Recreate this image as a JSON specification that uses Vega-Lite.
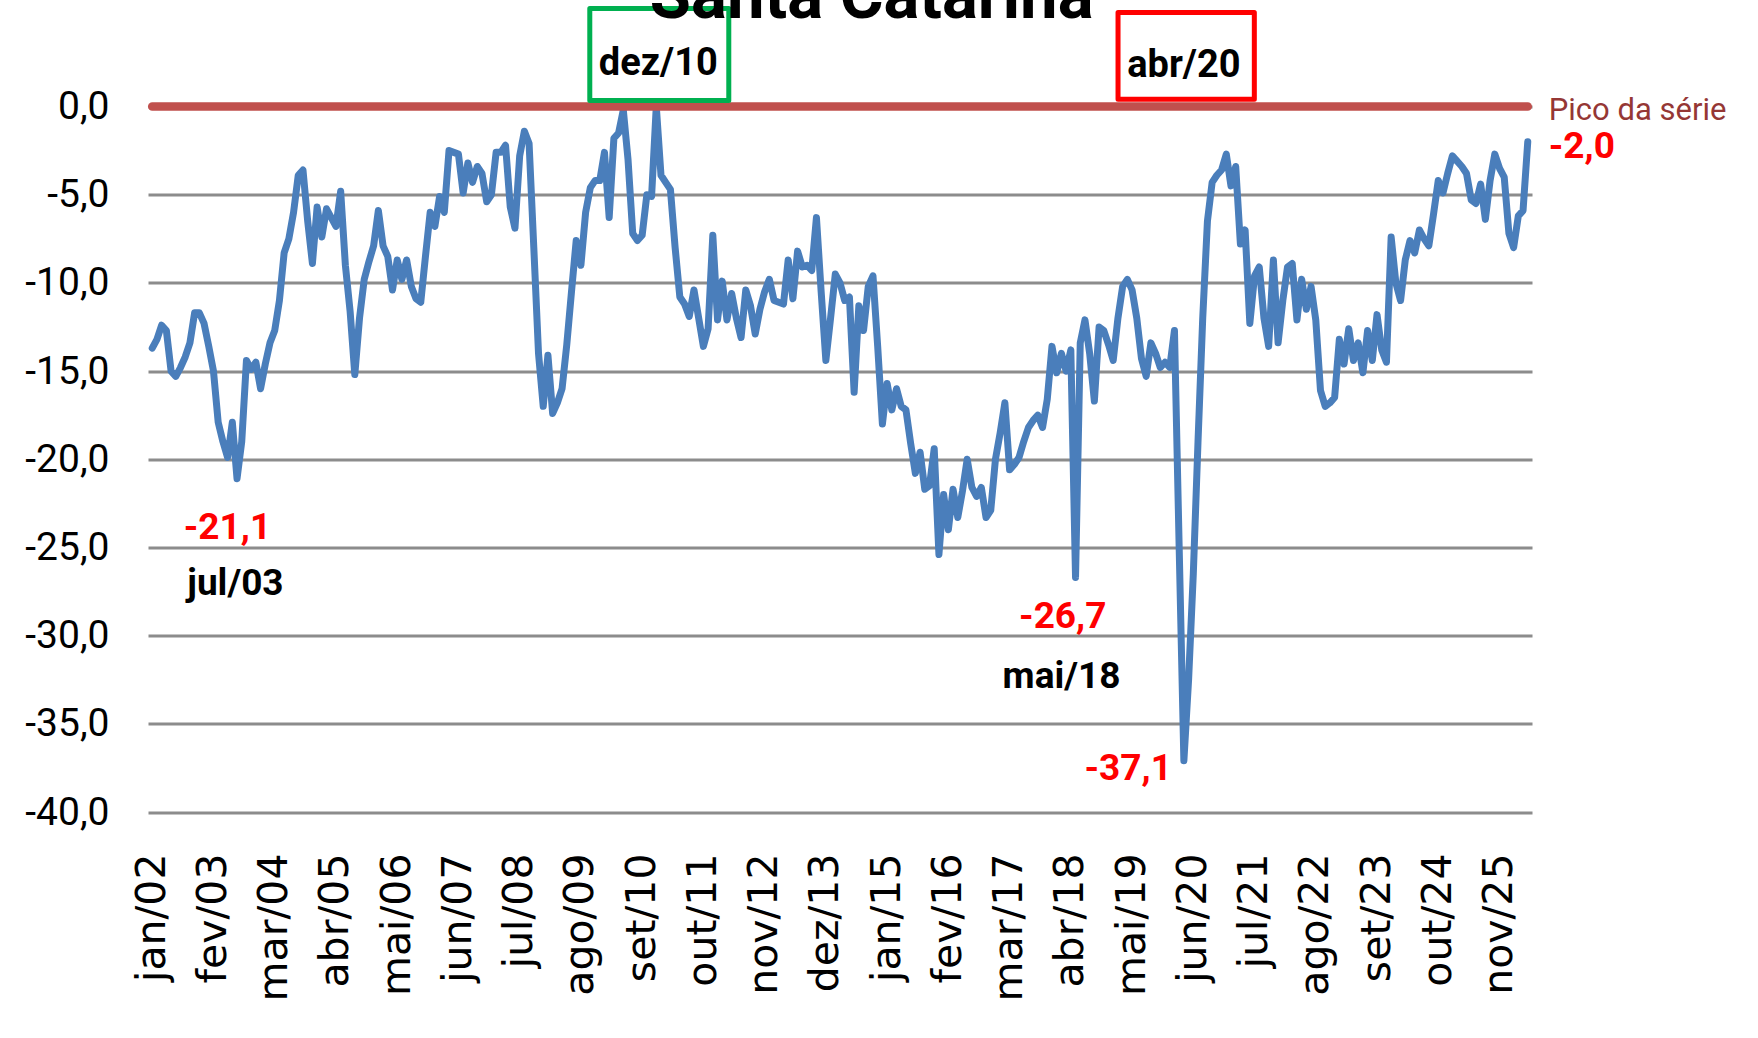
{
  "$schema": "https://vega.github.io/schema/vega-lite/v6.json",
  "width": 1384,
  "height": 705.5,
  "autosize": {"type": "none"},
  "padding": {"left": 148, "top": 106.5, "right": 226, "bottom": 226},
  "background": "white",
  "config": {"view": {"stroke": null}},
  "data": {"values": [
    {"m":"jan/02","v":-13.7},{"m":"fev/02","v":-13.2},{"m":"mar/02","v":-12.4},{"m":"abr/02","v":-12.7},{"m":"mai/02","v":-15.0},{"m":"jun/02","v":-15.3},{"m":"jul/02","v":-14.8},{"m":"ago/02","v":-14.2},{"m":"set/02","v":-13.4},{"m":"out/02","v":-11.7},{"m":"nov/02","v":-11.7},{"m":"dez/02","v":-12.3},
    {"m":"jan/03","v":-13.6},{"m":"fev/03","v":-15.0},{"m":"mar/03","v":-17.9},{"m":"abr/03","v":-19.0},{"m":"mai/03","v":-19.9},{"m":"jun/03","v":-17.9},{"m":"jul/03","v":-21.1},{"m":"ago/03","v":-19.0},{"m":"set/03","v":-14.4},{"m":"out/03","v":-14.9},{"m":"nov/03","v":-14.5},{"m":"dez/03","v":-16.0},
    {"m":"jan/04","v":-14.6},{"m":"fev/04","v":-13.4},{"m":"mar/04","v":-12.7},{"m":"abr/04","v":-11.0},{"m":"mai/04","v":-8.3},{"m":"jun/04","v":-7.5},{"m":"jul/04","v":-6.0},{"m":"ago/04","v":-3.9},{"m":"set/04","v":-3.6},{"m":"out/04","v":-6.5},{"m":"nov/04","v":-8.9},{"m":"dez/04","v":-5.7},
    {"m":"jan/05","v":-7.4},{"m":"fev/05","v":-5.8},{"m":"mar/05","v":-6.3},{"m":"abr/05","v":-6.8},{"m":"mai/05","v":-4.8},{"m":"jun/05","v":-9.0},{"m":"jul/05","v":-11.6},{"m":"ago/05","v":-15.2},{"m":"set/05","v":-12.0},{"m":"out/05","v":-9.8},{"m":"nov/05","v":-8.8},{"m":"dez/05","v":-7.9},
    {"m":"jan/06","v":-5.9},{"m":"fev/06","v":-7.9},{"m":"mar/06","v":-8.5},{"m":"abr/06","v":-10.4},{"m":"mai/06","v":-8.7},{"m":"jun/06","v":-9.8},{"m":"jul/06","v":-8.7},{"m":"ago/06","v":-10.2},{"m":"set/06","v":-10.9},{"m":"out/06","v":-11.1},{"m":"nov/06","v":-8.5},{"m":"dez/06","v":-6.0},
    {"m":"jan/07","v":-6.8},{"m":"fev/07","v":-5.1},{"m":"mar/07","v":-6.0},{"m":"abr/07","v":-2.5},{"m":"mai/07","v":-2.6},{"m":"jun/07","v":-2.7},{"m":"jul/07","v":-4.9},{"m":"ago/07","v":-3.2},{"m":"set/07","v":-4.3},{"m":"out/07","v":-3.4},{"m":"nov/07","v":-3.8},{"m":"dez/07","v":-5.4},
    {"m":"jan/08","v":-5.0},{"m":"fev/08","v":-2.6},{"m":"mar/08","v":-2.6},{"m":"abr/08","v":-2.2},{"m":"mai/08","v":-5.7},{"m":"jun/08","v":-6.9},{"m":"jul/08","v":-2.8},{"m":"ago/08","v":-1.4},{"m":"set/08","v":-2.1},{"m":"out/08","v":-8.0},{"m":"nov/08","v":-14.0},{"m":"dez/08","v":-17.0},
    {"m":"jan/09","v":-14.1},{"m":"fev/09","v":-17.4},{"m":"mar/09","v":-16.8},{"m":"abr/09","v":-16.0},{"m":"mai/09","v":-13.5},{"m":"jun/09","v":-10.5},{"m":"jul/09","v":-7.6},{"m":"ago/09","v":-9.0},{"m":"set/09","v":-6.0},{"m":"out/09","v":-4.6},{"m":"nov/09","v":-4.2},{"m":"dez/09","v":-4.2},
    {"m":"jan/10","v":-2.6},{"m":"fev/10","v":-6.3},{"m":"mar/10","v":-1.8},{"m":"abr/10","v":-1.5},{"m":"mai/10","v":-0.2},{"m":"jun/10","v":-3.0},{"m":"jul/10","v":-7.2},{"m":"ago/10","v":-7.6},{"m":"set/10","v":-7.3},{"m":"out/10","v":-5.0},{"m":"nov/10","v":-5.1},{"m":"dez/10","v":0.0},
    {"m":"jan/11","v":-3.9},{"m":"fev/11","v":-4.3},{"m":"mar/11","v":-4.7},{"m":"abr/11","v":-8.0},{"m":"mai/11","v":-10.8},{"m":"jun/11","v":-11.2},{"m":"jul/11","v":-11.9},{"m":"ago/11","v":-10.4},{"m":"set/11","v":-12.0},{"m":"out/11","v":-13.6},{"m":"nov/11","v":-12.6},{"m":"dez/11","v":-7.3},
    {"m":"jan/12","v":-12.1},{"m":"fev/12","v":-9.9},{"m":"mar/12","v":-12.1},{"m":"abr/12","v":-10.6},{"m":"mai/12","v":-12.0},{"m":"jun/12","v":-13.1},{"m":"jul/12","v":-10.4},{"m":"ago/12","v":-11.3},{"m":"set/12","v":-12.9},{"m":"out/12","v":-11.5},{"m":"nov/12","v":-10.5},{"m":"dez/12","v":-9.8},
    {"m":"jan/13","v":-11.0},{"m":"fev/13","v":-11.1},{"m":"mar/13","v":-11.2},{"m":"abr/13","v":-8.7},{"m":"mai/13","v":-10.9},{"m":"jun/13","v":-8.2},{"m":"jul/13","v":-9.1},{"m":"ago/13","v":-9.0},{"m":"set/13","v":-9.3},{"m":"out/13","v":-6.3},{"m":"nov/13","v":-10.5},{"m":"dez/13","v":-14.4},
    {"m":"jan/14","v":-12.0},{"m":"fev/14","v":-9.5},{"m":"mar/14","v":-10.0},{"m":"abr/14","v":-11.0},{"m":"mai/14","v":-10.8},{"m":"jun/14","v":-16.2},{"m":"jul/14","v":-11.3},{"m":"ago/14","v":-12.7},{"m":"set/14","v":-10.2},{"m":"out/14","v":-9.6},{"m":"nov/14","v":-13.6},{"m":"dez/14","v":-18.0},
    {"m":"jan/15","v":-15.7},{"m":"fev/15","v":-17.2},{"m":"mar/15","v":-16.0},{"m":"abr/15","v":-17.0},{"m":"mai/15","v":-17.2},{"m":"jun/15","v":-19.1},{"m":"jul/15","v":-20.8},{"m":"ago/15","v":-19.6},{"m":"set/15","v":-21.7},{"m":"out/15","v":-21.5},{"m":"nov/15","v":-19.4},{"m":"dez/15","v":-25.4},
    {"m":"jan/16","v":-22.0},{"m":"fev/16","v":-24.0},{"m":"mar/16","v":-21.7},{"m":"abr/16","v":-23.3},{"m":"mai/16","v":-21.8},{"m":"jun/16","v":-20.0},{"m":"jul/16","v":-21.6},{"m":"ago/16","v":-22.1},{"m":"set/16","v":-21.6},{"m":"out/16","v":-23.3},{"m":"nov/16","v":-22.9},{"m":"dez/16","v":-20.0},
    {"m":"jan/17","v":-18.5},{"m":"fev/17","v":-16.8},{"m":"mar/17","v":-20.6},{"m":"abr/17","v":-20.3},{"m":"mai/17","v":-19.9},{"m":"jun/17","v":-19.0},{"m":"jul/17","v":-18.2},{"m":"ago/17","v":-17.8},{"m":"set/17","v":-17.5},{"m":"out/17","v":-18.2},{"m":"nov/17","v":-16.6},{"m":"dez/17","v":-13.6},
    {"m":"jan/18","v":-15.1},{"m":"fev/18","v":-14.0},{"m":"mar/18","v":-15.0},{"m":"abr/18","v":-13.8},{"m":"mai/18","v":-26.7},{"m":"jun/18","v":-13.4},{"m":"jul/18","v":-12.1},{"m":"ago/18","v":-14.0},{"m":"set/18","v":-16.7},{"m":"out/18","v":-12.5},{"m":"nov/18","v":-12.7},{"m":"dez/18","v":-13.5},
    {"m":"jan/19","v":-14.4},{"m":"fev/19","v":-12.0},{"m":"mar/19","v":-10.2},{"m":"abr/19","v":-9.8},{"m":"mai/19","v":-10.4},{"m":"jun/19","v":-12.0},{"m":"jul/19","v":-14.3},{"m":"ago/19","v":-15.3},{"m":"set/19","v":-13.4},{"m":"out/19","v":-14.0},{"m":"nov/19","v":-14.8},{"m":"dez/19","v":-14.5},
    {"m":"jan/20","v":-14.8},{"m":"fev/20","v":-12.7},{"m":"mar/20","v":-25.0},{"m":"abr/20","v":-37.1},{"m":"mai/20","v":-32.5},{"m":"jun/20","v":-26.5},{"m":"jul/20","v":-19.0},{"m":"ago/20","v":-12.0},{"m":"set/20","v":-6.5},{"m":"out/20","v":-4.3},{"m":"nov/20","v":-3.9},{"m":"dez/20","v":-3.6},
    {"m":"jan/21","v":-2.7},{"m":"fev/21","v":-4.5},{"m":"mar/21","v":-3.4},{"m":"abr/21","v":-7.8},{"m":"mai/21","v":-7.0},{"m":"jun/21","v":-12.3},{"m":"jul/21","v":-9.6},{"m":"ago/21","v":-9.1},{"m":"set/21","v":-12.0},{"m":"out/21","v":-13.6},{"m":"nov/21","v":-8.7},{"m":"dez/21","v":-13.4},
    {"m":"jan/22","v":-11.0},{"m":"fev/22","v":-9.1},{"m":"mar/22","v":-8.9},{"m":"abr/22","v":-12.1},{"m":"mai/22","v":-9.8},{"m":"jun/22","v":-11.5},{"m":"jul/22","v":-10.2},{"m":"ago/22","v":-12.1},{"m":"set/22","v":-16.1},{"m":"out/22","v":-17.0},{"m":"nov/22","v":-16.8},{"m":"dez/22","v":-16.5},
    {"m":"jan/23","v":-13.2},{"m":"fev/23","v":-14.6},{"m":"mar/23","v":-12.6},{"m":"abr/23","v":-14.4},{"m":"mai/23","v":-13.4},{"m":"jun/23","v":-15.1},{"m":"jul/23","v":-12.7},{"m":"ago/23","v":-14.4},{"m":"set/23","v":-11.8},{"m":"out/23","v":-13.8},{"m":"nov/23","v":-14.5},{"m":"dez/23","v":-7.4},
    {"m":"jan/24","v":-10.0},{"m":"fev/24","v":-11.0},{"m":"mar/24","v":-8.7},{"m":"abr/24","v":-7.6},{"m":"mai/24","v":-8.3},{"m":"jun/24","v":-7.0},{"m":"jul/24","v":-7.5},{"m":"ago/24","v":-7.9},{"m":"set/24","v":-6.1},{"m":"out/24","v":-4.2},{"m":"nov/24","v":-4.9},{"m":"dez/24","v":-3.8},
    {"m":"jan/25","v":-2.8},{"m":"fev/25","v":-3.1},{"m":"mar/25","v":-3.4},{"m":"abr/25","v":-3.8},{"m":"mai/25","v":-5.3},{"m":"jun/25","v":-5.5},{"m":"jul/25","v":-4.4},{"m":"ago/25","v":-6.4},{"m":"set/25","v":-4.2},{"m":"out/25","v":-2.7},{"m":"nov/25","v":-3.5},{"m":"dez/25","v":-4.0},
    {"m":"jan/26","v":-7.2},{"m":"fev/26","v":-8.0},{"m":"mar/26","v":-6.2},{"m":"abr/26","v":-5.9},{"m":"mai/26","v":-2.0}
  ]},
  "encoding": {
    "x": {
      "field": "m", "type": "ordinal", "sort": null,
      "scale": {"type": "point", "padding": 0.9},
      "axis": {
        "values": ["jan/02","fev/03","mar/04","abr/05","mai/06","jun/07","jul/08","ago/09","set/10","out/11","nov/12","dez/13","jan/15","fev/16","mar/17","abr/18","mai/19","jun/20","jul/21","ago/22","set/23","out/24","nov/25"],
        "title": null, "domain": false, "ticks": false, "grid": false,
        "labelAngle": 270, "labelAlign": "right", "labelBaseline": "middle",
        "labelFont": "DejaVu Sans", "labelFontSize": 41, "labelColor": "#000000",
        "labelPadding": 41, "labelOverlap": false, "labelFlush": false, "labelBound": false
      }
    },
    "y": {
      "field": "v", "type": "quantitative",
      "scale": {"domain": [-40, 0], "nice": false, "zero": false},
      "axis": {
        "values": [-40, -35, -30, -25, -20, -15, -10, -5, 0],
        "title": null, "domain": false, "ticks": false, "grid": true,
        "gridColor": "#8c8c8c", "gridWidth": 3,
        "labelFont": "Roboto", "labelFontSize": 39, "labelColor": "#000000",
        "labelPadding": 39, "labelOverlap": false, "labelFlush": false, "labelBound": false,
        "labelExpr": "(datum.value < 0 ? '-' : '') + replace(format(abs(datum.value), '.1f'), '.', ',')"
      }
    }
  },
  "layer": [
    {
      "mark": {"type": "line", "color": "#4a7ebb", "strokeWidth": 7, "strokeJoin": "round", "strokeCap": "round"}
    },
    {
      "mark": {"type": "line", "color": "#c0504d", "strokeWidth": 8.5, "strokeCap": "round"},
      "encoding": {"y": {"datum": 0}}
    },
    {
      "transform": [{"filter": "datum.m == 'dez/10'"}],
      "mark": {"type": "point", "shape": "M-1,-0.662L1,-0.662L1,0.662L-1,0.662Z", "size": 19321, "filled": false, "stroke": "#00b050", "strokeWidth": 5, "strokeJoin": "round", "opacity": 1, "xOffset": 3, "yOffset": -52},
      "encoding": {"y": {"datum": 0}}
    },
    {
      "transform": [{"filter": "datum.m == 'abr/20'"}],
      "mark": {"type": "point", "shape": "M-1,-0.636L1,-0.636L1,0.636L-1,0.636Z", "size": 18578, "filled": false, "stroke": "#ff0000", "strokeWidth": 5, "strokeJoin": "round", "opacity": 1, "xOffset": 2.3, "yOffset": -50.6},
      "encoding": {"y": {"datum": 0}}
    },
    {
      "transform": [{"filter": "datum.m == 'set/14'"}],
      "mark": {"type": "text", "font": "Roboto", "fontWeight": "bold", "fontSize": 67, "color": "#000000", "align": "center", "baseline": "alphabetic", "dx": 3.4, "dy": -88.5},
      "encoding": {"y": {"datum": 0}, "text": {"value": "Santa Catarina"}}
    },
    {
      "transform": [{"filter": "datum.m == 'dez/10'"}],
      "mark": {"type": "text", "font": "Roboto", "fontWeight": "bold", "fontSize": 38, "color": "#000000", "align": "center", "baseline": "alphabetic", "dx": 2, "dy": -31.5},
      "encoding": {"y": {"datum": 0}, "text": {"value": "dez/10"}}
    },
    {
      "transform": [{"filter": "datum.m == 'abr/20'"}],
      "mark": {"type": "text", "font": "Roboto", "fontWeight": "bold", "fontSize": 38, "color": "#000000", "align": "center", "baseline": "alphabetic", "dx": 0, "dy": -29.5},
      "encoding": {"y": {"datum": 0}, "text": {"value": "abr/20"}}
    },
    {
      "transform": [{"filter": "datum.m == 'mai/26'"}],
      "mark": {"type": "text", "font": "Roboto", "fontWeight": "normal", "fontSize": 31, "color": "#953735", "align": "left", "baseline": "alphabetic", "dx": 21, "dy": 13.5},
      "encoding": {"y": {"datum": 0}, "text": {"value": "Pico da série"}}
    },
    {
      "transform": [{"filter": "datum.m == 'mai/26'"}],
      "mark": {"type": "text", "font": "Roboto", "fontWeight": "bold", "fontSize": 37, "color": "#ff0000", "align": "left", "baseline": "alphabetic", "dx": 21, "dy": 16},
      "encoding": {"text": {"value": "-2,0"}}
    },
    {
      "transform": [{"filter": "datum.m == 'jul/03'"}],
      "mark": {"type": "text", "font": "Roboto", "fontWeight": "bold", "fontSize": 37, "color": "#ff0000", "align": "center", "baseline": "alphabetic", "dx": -9.6, "dy": 60.3},
      "encoding": {"text": {"value": "-21,1"}}
    },
    {
      "transform": [{"filter": "datum.m == 'jul/03'"}],
      "mark": {"type": "text", "font": "Roboto", "fontWeight": "bold", "fontSize": 37, "color": "#000000", "align": "center", "baseline": "alphabetic", "dx": -1.6, "dy": 116},
      "encoding": {"text": {"value": "jul/03"}}
    },
    {
      "transform": [{"filter": "datum.m == 'mai/18'"}],
      "mark": {"type": "text", "font": "Roboto", "fontWeight": "bold", "fontSize": 37, "color": "#ff0000", "align": "center", "baseline": "alphabetic", "dx": -12.8, "dy": 50.5},
      "encoding": {"text": {"value": "-26,7"}}
    },
    {
      "transform": [{"filter": "datum.m == 'mai/18'"}],
      "mark": {"type": "text", "font": "Roboto", "fontWeight": "bold", "fontSize": 37, "color": "#000000", "align": "center", "baseline": "alphabetic", "dx": -14, "dy": 110.5},
      "encoding": {"text": {"value": "mai/18"}}
    },
    {
      "transform": [{"filter": "datum.m == 'abr/20'"}],
      "mark": {"type": "text", "font": "Roboto", "fontWeight": "bold", "fontSize": 37, "color": "#ff0000", "align": "right", "baseline": "alphabetic", "dx": -12, "dy": 19},
      "encoding": {"text": {"value": "-37,1"}}
    }
  ]
}
